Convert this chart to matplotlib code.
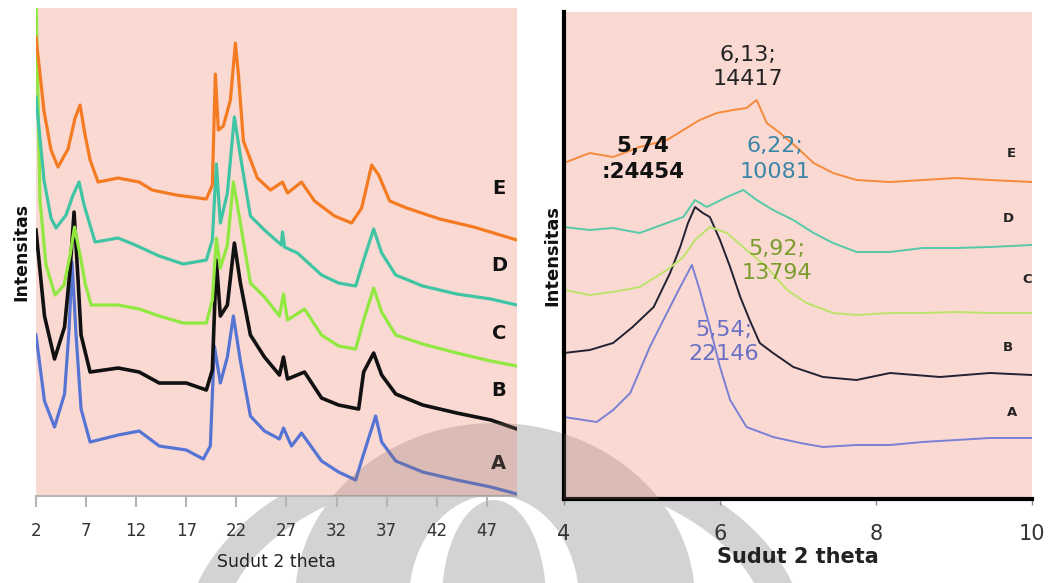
import matplotlib
matplotlib.use("Agg")
import matplotlib.pyplot as plt
from matplotlib.patches import Ellipse

# ---- data: left panel (full scan), intensity in arbitrary units ----
theta_E = [2.0, 2.8, 3.5, 4.2, 5.2, 5.9, 6.4, 6.9, 7.4, 8.2, 10.2, 12.3, 13.6, 16.0, 19.0, 19.6, 19.9, 20.2, 20.7,
           21.4, 21.9, 22.2, 22.7, 24.1, 25.4, 26.6, 27.1, 28.5, 29.8, 31.8, 33.5, 34.5, 35.5, 36.2, 37.3, 39.0,
           42.3, 45.7, 50.0]
int_E = [459, 385, 346, 329, 347, 378, 391, 361, 336, 314, 318, 314, 306, 301, 297, 311, 422, 366, 370, 396, 453,
         422, 355, 318, 306, 314, 303, 314, 295, 280, 273, 288, 331, 321, 295, 288, 277, 269, 256]

theta_D = [2.0, 2.8, 3.5, 4.0, 5.0, 5.7, 6.3, 6.8, 7.9, 10.2, 11.9, 14.3, 16.7, 19.0, 19.6, 20.0, 20.4, 21.1, 21.8,
           22.4, 23.4, 24.8, 26.5, 26.6, 26.8, 28.1, 30.5, 32.2, 33.9, 34.7, 35.7, 36.5, 37.9, 40.6, 44.0, 47.4, 50.0]
int_D = [399, 316, 278, 268, 281, 301, 314, 291, 254, 258, 251, 240, 232, 236, 256, 332, 273, 303, 379, 340, 280,
         266, 251, 264, 249, 243, 221, 213, 210, 236, 267, 243, 221, 210, 202, 197, 191]

theta_C = [2.0, 2.4, 3.0, 3.9, 4.8, 5.4, 5.85, 6.5, 6.9, 7.5, 10.2, 12.3, 14.3, 16.7, 19.0, 19.6, 20.0, 20.4, 21.1,
           21.7, 22.4, 23.4, 24.8, 26.3, 26.7, 27.1, 28.8, 30.5, 32.2, 33.9, 34.7, 35.7, 36.5, 37.9, 40.6, 44.0,
           47.4, 50.0]
int_C = [500, 296, 231, 201, 211, 241, 269, 236, 213, 191, 191, 187, 180, 173, 173, 196, 258, 228, 251, 314, 273,
         213, 199, 180, 202, 176, 187, 161, 150, 147, 176, 208, 184, 161, 152, 143, 135, 130]

theta_B = [2.0, 2.85, 3.85, 4.85, 5.4, 5.8, 6.2, 6.5, 7.4, 10.2, 12.3, 14.3, 17.0, 19.0, 19.6, 20.0, 20.4, 21.1,
           21.8, 22.4, 23.4, 24.8, 26.3, 26.7, 27.1, 28.8, 30.5, 32.2, 34.2, 34.7, 35.7, 36.5, 37.9, 40.6, 44.0,
           47.4, 50.0]
int_B = [266, 180, 137, 169, 226, 284, 216, 161, 124, 128, 124, 113, 113, 106, 126, 236, 180, 191, 253, 213, 161,
         139, 121, 139, 117, 124, 98, 91, 87, 124, 143, 121, 102, 91, 83, 76, 67]

theta_A = [2.0, 2.85, 3.85, 4.85, 5.3, 5.6, 6.0, 6.5, 7.4, 10.2, 12.3, 14.3, 17.0, 18.7, 19.4, 19.8, 20.4, 21.1,
           21.7, 22.4, 23.4, 24.8, 26.3, 26.7, 27.5, 28.5, 30.5, 32.2, 33.9, 34.7, 35.9, 36.5, 37.9, 40.6, 44.0,
           47.4, 50.0]
int_A = [161, 95, 69, 102, 166, 234, 161, 87, 54, 61, 65, 50, 46, 37, 50, 150, 113, 139, 180, 135, 80, 65, 57, 68,
         50, 63, 35, 24, 16, 42, 80, 54, 35, 24, 16, 9, 2]

# ---- data: right panel (zoom 4-10 deg) ----
zE_x = [4.0, 4.33, 4.63, 4.97, 5.32, 5.53, 5.74, 5.96, 6.17, 6.34, 6.47, 6.6, 6.77, 6.98, 7.2, 7.45, 7.75, 8.18,
        8.6, 9.03, 9.46, 10.0]
zE_y = [336, 346, 342, 352, 359, 369, 379, 386, 389, 391, 399, 376, 366, 352, 336, 326, 319, 317, 319, 321, 319, 317]

zD_x = [4.0, 4.33, 4.63, 4.97, 5.32, 5.53, 5.68, 5.83, 6.09, 6.3, 6.47, 6.68, 6.94, 7.2, 7.45, 7.75, 8.18, 8.6,
        9.03, 9.46, 10.0]
zD_y = [272, 269, 271, 266, 276, 282, 299, 292, 302, 309, 299, 289, 279, 266, 256, 247, 247, 251, 251, 252, 254]

zC_x = [4.0, 4.33, 4.63, 4.97, 5.32, 5.53, 5.68, 5.87, 6.09, 6.34, 6.6, 6.86, 7.11, 7.45, 7.75, 8.18, 8.6, 9.03,
        9.46, 10.0]
zC_y = [209, 204, 207, 212, 229, 242, 259, 272, 266, 249, 232, 209, 196, 186, 184, 186, 186, 187, 186, 186]

zB_x = [4.0, 4.33, 4.63, 4.88, 5.15, 5.36, 5.49, 5.59, 5.68, 5.78, 5.87, 6.0, 6.13, 6.26, 6.38, 6.51, 6.68, 6.94,
        7.32, 7.75, 8.18, 8.82, 9.46, 10.0]
zB_y = [146, 149, 156, 172, 192, 226, 252, 276, 292, 286, 282, 259, 232, 202, 179, 156, 146, 132, 122, 119, 126,
        122, 126, 124]

zA_x = [4.0, 4.42, 4.63, 4.85, 5.1, 5.32, 5.49, 5.64, 5.74, 5.87, 6.0, 6.13, 6.34, 6.68, 7.03, 7.32, 7.75, 8.18,
        8.6, 9.03, 9.46, 10.0]
zA_y = [82, 77, 89, 106, 152, 186, 212, 234, 209, 172, 132, 99, 72, 62, 56, 52, 54, 54, 57, 59, 61, 61]

left_ticks = [2, 7, 12, 17, 22, 27, 32, 37, 42, 47]
right_ticks = [4, 6, 8, 10]
samples = ["A", "B", "C", "D", "E"]

pink = "#fad9d3"
col_left = {"A": "#5574d4", "B": "#111111", "C": "#90e840", "D": "#3fc4a4", "E": "#f47b22"}
col_right = {"A": "#7a80d4", "B": "#222233", "C": "#bde36a", "D": "#55c9a8", "E": "#f58a3c"}

W, H = 1052, 583
fig = plt.figure(figsize=(W / 100, H / 100), dpi=100)


def px_ellipse(cx, cy, a, b, **kw):
    # ellipse given in image pixels (y downwards) -> figure fraction
    return Ellipse((cx / W, 1 - cy / H), 2 * a / W, 2 * b / H, transform=fig.transFigure, **kw)


# faint logo watermark behind the plots
grey = "#d3d3d3"
for (cx, cy, a, b, c) in [(495, 640, 310, 200, grey), (495, 640, 275, 170, "white"),
                          (495, 600, 200, 177, grey), (494, 600, 85, 105, "white"),
                          (494, 600, 52, 100, grey)]:
    fig.patches.append(px_ellipse(cx, cy, a, b, facecolor=c, edgecolor="none", zorder=-5))

# ---------- left panel ----------
ax1 = fig.add_axes([0.0342, 0.1492, 0.4572, 0.837])
ax1.set_facecolor(pink)
left_data = {"A": (theta_A, int_A), "B": (theta_B, int_B), "C": (theta_C, int_C),
             "D": (theta_D, int_D), "E": (theta_E, int_E)}
for s in samples:
    xs, ys = left_data[s]
    ax1.plot(xs, ys, color=col_left[s], lw=2.6 if s == "B" else 2.3)
ax1.set_xlim(2, 50)
ax1.set_ylim(0, 488)
ax1.set_xticks(left_ticks)
ax1.set_yticks([])
for sp in ["top", "right", "left"]:
    ax1.spines[sp].set_visible(False)
ax1.spines["bottom"].set_color("#b5b5b5")
ax1.spines["bottom"].set_linewidth(1.5)
ax1.tick_params(axis="x", direction="out", length=8, width=1.5, color="#b5b5b5",
                labelsize=12, labelcolor="#333333", pad=11)
ax1.set_xlabel("Sudut 2 theta", fontsize=12.5, color="#222222", labelpad=9)
ax1.set_ylabel("Intensitas", fontsize=12.5, fontweight="bold", color="#111111", labelpad=4)
left_lab_y = {"E": 308, "D": 231, "C": 163, "B": 106, "A": 33}
for s in samples:
    ax1.text(48.2, left_lab_y[s], s, fontsize=14, fontweight="bold", color="#111111", ha="center", va="center")

# ---------- right panel ----------
ax2 = fig.add_axes([0.5361, 0.1441, 0.4449, 0.8353])
ax2.set_facecolor(pink)
right_data = {"A": (zA_x, zA_y), "B": (zB_x, zB_y), "C": (zC_x, zC_y),
              "D": (zD_x, zD_y), "E": (zE_x, zE_y)}
for s in samples:
    xs, ys = right_data[s]
    ax2.plot(xs, ys, color=col_right[s], lw=1.4)
ax2.set_xlim(4, 10)
ax2.set_ylim(0, 487)
ax2.set_xticks(right_ticks)
ax2.set_yticks([])
for sp in ["top", "right"]:
    ax2.spines[sp].set_visible(False)
for sp in ["left", "bottom"]:
    ax2.spines[sp].set_color("#000000")
    ax2.spines[sp].set_linewidth(3)
ax2.tick_params(axis="x", direction="out", length=4, width=1, color="#888888",
                labelsize=15, labelcolor="#333333", pad=14)
ax2.set_xlabel("Sudut 2 theta", fontsize=15, fontweight="bold", color="#222222", labelpad=2)
ax2.set_ylabel("Intensitas", fontsize=13, fontweight="bold", color="#111111", labelpad=2)
right_lab = {"E": (9.74, 346), "D": (9.69, 281), "C": (9.94, 219), "B": (9.69, 151), "A": (9.74, 86)}
for s in samples:
    ax2.text(*right_lab[s], s, fontsize=9.5, fontweight="bold", color="#222222", ha="center", va="center")

# peak annotations
ax2.text(6.36, 432, "6,13;\n14417", fontsize=16, color="#222222", ha="center", va="center", linespacing=1.2)
ax2.text(5.01, 340, "5,74\n:24454", fontsize=15.5, fontweight="bold", color="#111111", ha="center",
         va="center", linespacing=1.4)
ax2.text(6.71, 340, "6,22;\n10081", fontsize=16, color="#3a86a6", ha="center", va="center", linespacing=1.4)
ax2.text(6.73, 238, "5,92;\n13794", fontsize=16, color="#7a9c2c", ha="center", va="center", linespacing=1.25)
ax2.text(6.05, 157, "5,54;\n22146", fontsize=16, color="#6b70c6", ha="center", va="center", linespacing=1.25)

# watermark tint where it crosses the plot areas
for ax in (ax1, ax2):
    tint = px_ellipse(495, 600, 200, 177, facecolor="#8c7068", edgecolor="none", alpha=0.28, zorder=5)
    fig.patches.append(tint)
    tint.set_clip_path(ax.patch)

fig.savefig("out.png", dpi=100)
